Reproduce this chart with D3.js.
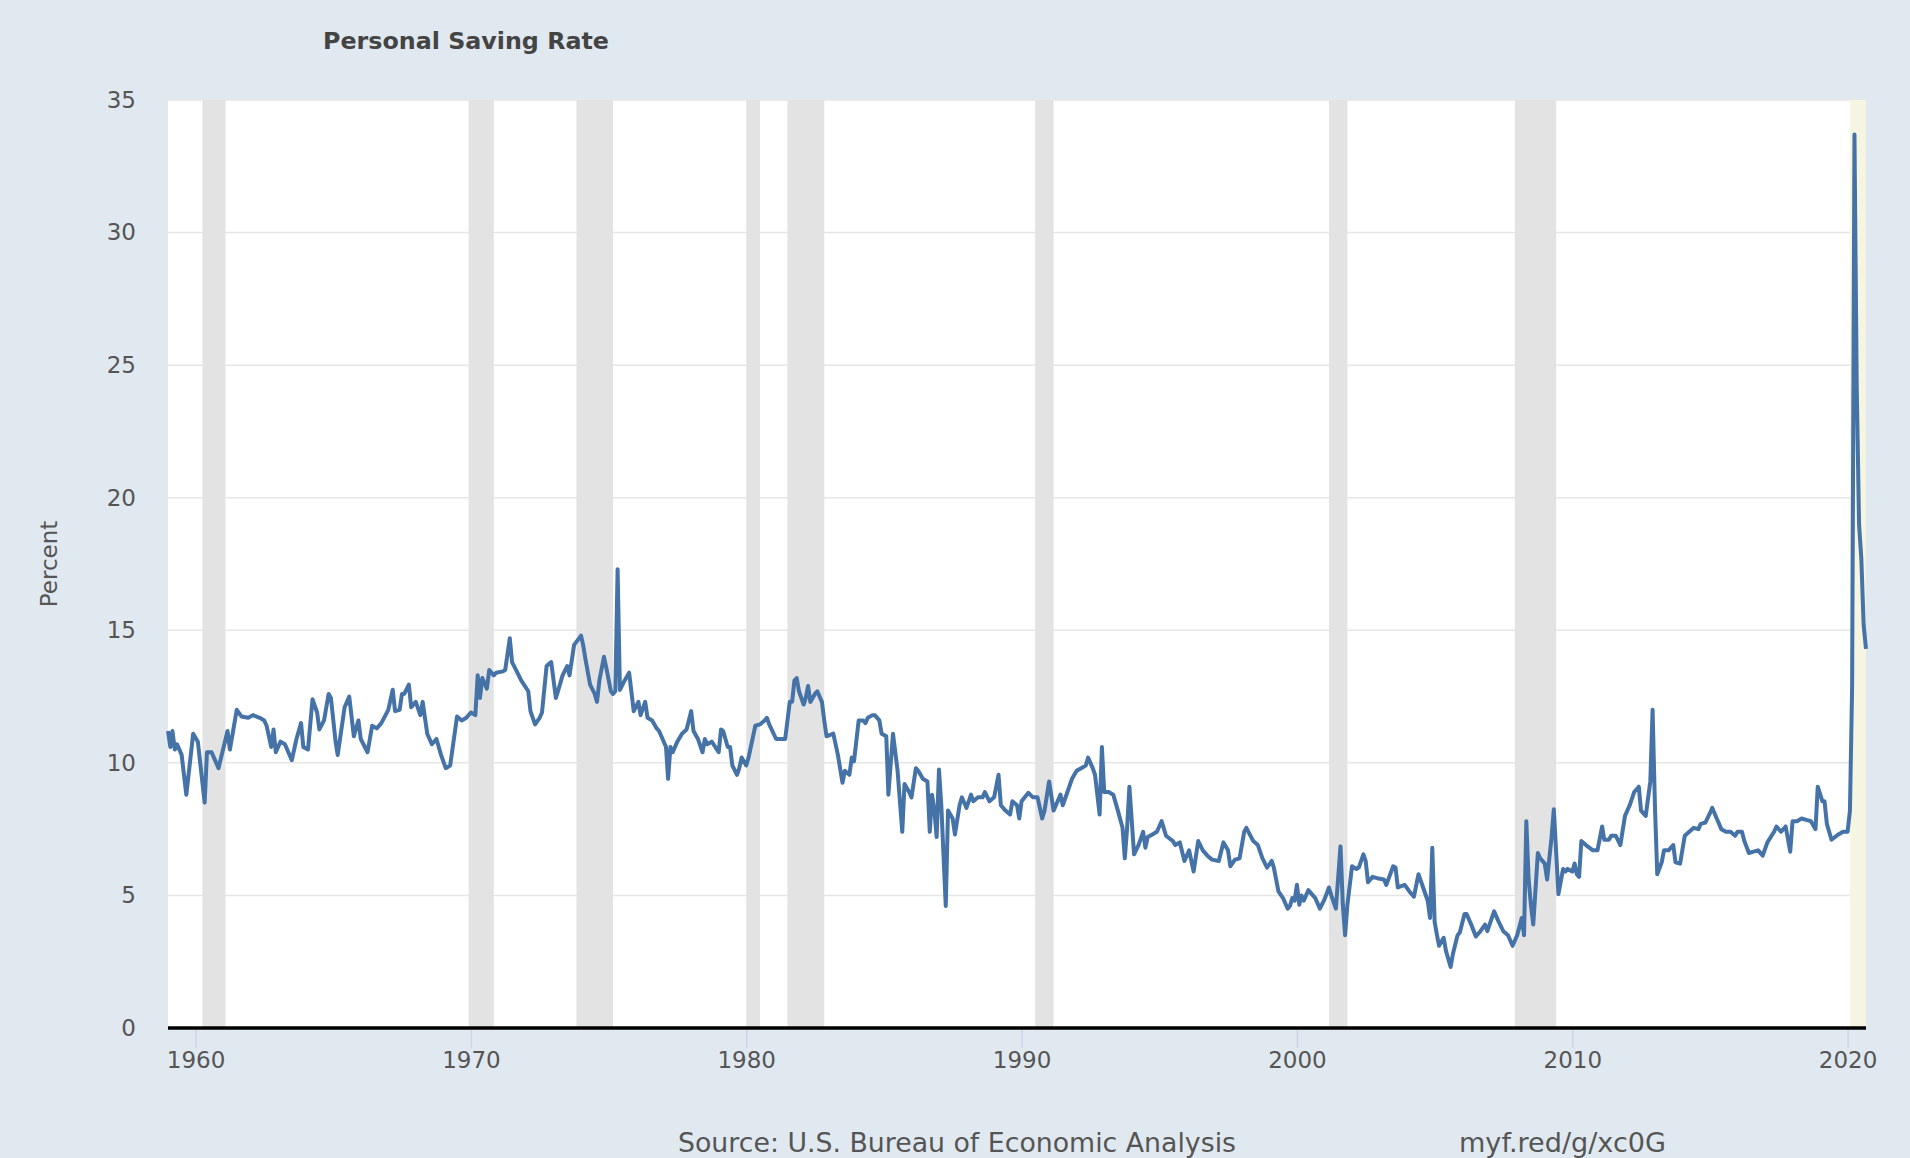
<!DOCTYPE html>
<html>
<head>
<meta charset="utf-8">
<script src="https://cdn.jsdelivr.net/npm/d3@7"></script>
<style>
  body { margin: 0; background: #e1e9f0; }
  svg { display: block; }
</style>
</head>
<body>
<div id="chart"></div>
<script>
const obsMonths = [
  "1959-01","1959-02","1959-03","1959-04","1959-05","1959-07","1959-09","1959-12",
  "1960-02","1960-05","1960-06","1960-08","1960-11",
  "1961-03","1961-04","1961-07","1961-09","1961-12",
  "1962-02","1962-05","1962-07","1962-08","1962-10","1962-11","1962-12",
  "1963-02","1963-04","1963-07","1963-09","1963-11","1963-12",
  "1964-02","1964-04","1964-06","1964-07","1964-09","1964-11","1964-12",
  "1965-02","1965-03","1965-06","1965-08","1965-10","1965-12",
  "1966-01","1966-04","1966-06","1966-08","1966-10",
  "1967-01","1967-03","1967-04","1967-06","1967-07","1967-08","1967-10","1967-11",
  "1968-01","1968-03","1968-04","1968-06","1968-08","1968-10","1968-12",
  "1969-02","1969-04","1969-07","1969-09","1969-11",
  "1970-01","1970-03","1970-04","1970-05","1970-06","1970-08","1970-09","1970-11","1970-12",
  "1971-03","1971-04","1971-06","1971-07","1971-09","1971-11",
  "1972-02","1972-03","1972-05","1972-07","1972-08","1972-10","1972-12",
  "1973-02","1973-03","1973-05","1973-07","1973-08","1973-10",
  "1974-01","1974-02","1974-03","1974-05","1974-07","1974-08","1974-09","1974-11","1974-12",
  "1975-02","1975-03","1975-04","1975-05","1975-06","1975-08","1975-10","1975-12",
  "1976-02","1976-03","1976-05","1976-06","1976-08","1976-10","1976-11",
  "1977-02","1977-03","1977-04","1977-05","1977-07","1977-09","1977-11",
  "1978-01","1978-02","1978-04","1978-06","1978-07","1978-08","1978-10",
  "1979-01","1979-02","1979-03","1979-05","1979-06","1979-07","1979-09","1979-10","1979-11",
  "1980-01","1980-02","1980-05","1980-07","1980-09","1980-10","1980-11",
  "1981-02","1981-04","1981-06","1981-08","1981-09","1981-10","1981-11","1981-12",
  "1982-02","1982-03","1982-04","1982-05","1982-07","1982-08","1982-10","1982-11","1982-12",
  "1983-03","1983-05","1983-07","1983-08","1983-10","1983-11","1983-12",
  "1984-02","1984-04","1984-05","1984-06","1984-08","1984-09","1984-11","1984-12",
  "1985-02","1985-03","1985-05","1985-07","1985-08","1985-09","1985-10","1985-12",
  "1986-01","1986-03","1986-04","1986-06","1986-08","1986-09","1986-10","1986-11","1986-12",
  "1987-01","1987-02","1987-04","1987-05","1987-07","1987-08","1987-10","1987-11",
  "1988-01","1988-03","1988-04","1988-06","1988-08","1988-09","1988-11",
  "1989-01","1989-03","1989-04","1989-06","1989-08","1989-09","1989-11","1989-12",
  "1990-01","1990-04","1990-06","1990-08","1990-10","1990-11",
  "1991-01","1991-03","1991-05","1991-06","1991-07","1991-09","1991-11",
  "1992-01","1992-03","1992-05","1992-06","1992-08","1992-09","1992-11","1992-12",
  "1993-01","1993-03","1993-05","1993-07","1993-09","1993-10","1993-11","1993-12",
  "1994-02","1994-04","1994-06","1994-07","1994-08","1994-10","1994-12",
  "1995-02","1995-04","1995-07","1995-08","1995-10","1995-12",
  "1996-02","1996-04","1996-06","1996-08","1996-10","1996-12",
  "1997-03","1997-05","1997-07","1997-08","1997-10","1997-12",
  "1998-02","1998-03","1998-06","1998-08","1998-10","1998-12",
  "1999-02","1999-03","1999-05","1999-07","1999-09","1999-10","1999-11","1999-12",
  "2000-01","2000-02","2000-03","2000-04","2000-06","2000-09","2000-11",
  "2001-01","2001-03","2001-04","2001-06","2001-08","2001-09","2001-10","2001-11",
  "2002-01","2002-03","2002-04","2002-06","2002-07","2002-08","2002-10","2002-12",
  "2003-03","2003-04","2003-07","2003-08","2003-09","2003-12",
  "2004-02","2004-04","2004-06","2004-08","2004-10","2004-11","2004-12",
  "2005-01","2005-02","2005-03","2005-05","2005-06","2005-08","2005-09","2005-11","2005-12",
  "2006-02","2006-03","2006-05","2006-07","2006-09","2006-11","2006-12",
  "2007-03","2007-05","2007-07","2007-09","2007-11",
  "2008-01","2008-03","2008-04","2008-05","2008-06","2008-07","2008-08","2008-10","2008-11",
  "2009-01","2009-02","2009-04","2009-05","2009-07","2009-09","2009-10","2009-11",
  "2010-01","2010-02","2010-03","2010-04","2010-05","2010-07","2010-10","2010-12",
  "2011-02","2011-03","2011-05","2011-06","2011-08","2011-10","2011-12",
  "2012-02","2012-04","2012-06","2012-07","2012-09","2012-11","2012-12",
  "2013-01","2013-02","2013-04","2013-05","2013-07","2013-09","2013-10","2013-12",
  "2014-02","2014-04","2014-06","2014-08","2014-09","2014-11",
  "2015-01","2015-02","2015-04","2015-06","2015-08","2015-10","2015-12",
  "2016-01","2016-03","2016-04","2016-06","2016-08","2016-10","2016-12",
  "2017-02","2017-05","2017-06","2017-08","2017-10","2017-12",
  "2018-01","2018-03","2018-05","2018-07","2018-09","2018-11","2018-12",
  "2019-02","2019-03","2019-04","2019-06","2019-09","2019-11",
  "2020-01","2020-02","2020-03","2020-04","2020-05","2020-06","2020-07","2020-08","2020-09"
];

const obsRates = [
  11.2,10.6,11.2,10.5,10.7,10.3,8.8,11.1,
  10.8,8.5,10.4,10.4,9.8,
  11.2,10.5,12.0,11.75,11.7,
  11.8,11.7,11.6,11.4,10.6,11.26,10.4,
  10.8,10.7,10.1,10.9,11.5,10.6,
  10.5,12.4,11.9,11.26,11.6,12.6,12.45,
  10.8,10.3,12.1,12.5,11.0,11.6,
  10.9,10.4,11.4,11.3,11.5,
  12.0,12.76,11.95,12.0,12.6,12.6,12.95,12.1,
  12.3,11.8,12.3,11.1,10.7,10.9,10.3,
  9.8,9.9,11.75,11.6,11.7,
  11.9,11.8,13.3,12.45,13.2,12.8,13.5,13.3,13.4,
  13.45,13.5,14.7,13.8,13.45,13.1,
  12.7,11.95,11.45,11.7,11.9,13.65,13.8,
  12.45,12.7,13.3,13.65,13.3,14.45,
  14.8,14.4,13.9,12.95,12.6,12.3,13.1,14.0,13.6,
  12.7,12.6,12.7,17.3,12.75,13.1,13.4,11.95,
  12.3,11.8,12.3,11.7,11.6,11.3,11.2,
  10.6,9.4,10.6,10.4,10.8,11.1,11.26,
  11.95,11.2,10.9,10.4,10.9,10.7,10.8,
  10.4,11.26,11.2,10.6,10.6,9.9,9.55,9.8,10.2,
  9.9,10.2,11.4,11.45,11.6,11.7,11.45,
  10.9,10.9,10.9,12.3,12.3,13.1,13.2,12.7,
  12.2,12.45,12.9,12.3,12.6,12.7,12.3,11.6,11.0,
  11.1,10.3,9.25,9.7,9.55,10.2,10.06,
  11.6,11.6,11.5,11.7,11.8,11.8,11.6,11.1,
  11.0,8.8,11.1,9.7,8.55,7.4,9.2,8.9,
  8.7,9.8,9.7,9.4,9.3,7.4,8.8,8.2,7.2,
  9.75,8.4,4.6,8.2,7.9,7.3,8.4,8.7,
  8.3,8.8,8.55,8.7,8.7,8.9,8.55,
  8.7,9.55,8.4,8.2,8.05,8.55,8.4,7.9,
  8.55,8.87,8.7,8.7,7.9,8.2,
  9.3,8.2,8.6,8.8,8.4,8.9,9.4,
  9.7,9.8,9.9,10.2,9.8,9.55,8.05,10.6,
  8.9,8.9,8.8,8.2,7.55,6.4,7.55,9.1,
  6.55,6.9,7.4,6.8,7.2,7.3,7.4,
  7.8,7.25,7.05,6.9,7.0,6.3,
  6.7,5.9,7.05,6.7,6.5,6.35,
  6.3,7.0,6.7,6.1,6.35,6.4,
  7.4,7.55,7.05,6.9,6.4,6.05,
  6.3,6.05,5.15,4.9,4.5,4.6,4.9,4.8,
  5.4,4.65,5.0,4.8,5.2,4.9,4.5,
  4.85,5.3,5.0,4.5,6.85,4.65,3.5,4.65,
  6.1,6.0,6.05,6.55,6.3,5.5,5.7,5.65,
  5.6,5.4,6.1,6.05,5.3,5.4,
  5.15,4.95,5.8,5.3,4.8,4.15,6.8,
  4.0,3.5,3.1,3.4,2.9,2.3,2.8,3.5,3.6,
  4.3,4.3,3.9,3.45,3.65,3.9,3.65,
  4.4,4.0,3.65,3.5,3.1,
  3.5,4.15,3.5,7.8,5.6,4.65,3.9,6.6,6.4,
  6.2,5.6,7.2,8.25,5.05,6.0,5.9,6.0,
  5.9,6.2,5.8,5.7,7.05,6.9,6.7,6.7,
  7.6,7.1,7.1,7.25,7.25,6.9,8.0,
  8.4,8.9,9.1,8.2,8.0,9.3,12.0,
  8.4,5.8,6.25,6.7,6.7,6.9,6.25,6.2,
  7.25,7.4,7.55,7.5,7.7,7.75,
  8.1,8.3,7.9,7.5,7.4,7.4,7.25,
  7.4,7.4,7.05,6.6,6.65,6.7,6.5,
  7.0,7.4,7.6,7.4,7.6,6.65,
  7.8,7.8,7.9,7.85,7.8,7.5,9.1,
  8.55,8.55,7.7,7.1,7.3,7.4,
  7.4,8.2,12.9,33.7,24.2,19.0,17.7,15.2,14.3
];

// recession periods (peak month, trough month)
const recessionStarts = ["1960-04","1969-12","1973-11","1980-01","1981-07","1990-07","2001-03","2007-12"];
const recessionEnds   = ["1961-02","1970-11","1975-03","1980-07","1982-11","1991-03","2001-11","2009-06"];
const provisionalStart = "2020-02";

const yTicks = [0, 5, 10, 15, 20, 25, 30, 35];
const xTickYears = [1960, 1970, 1980, 1990, 2000, 2010, 2020];

const chartTitle = "Personal Saving Rate";
const yAxisTitle = "Percent";
const sourceText = "Source: U.S. Bureau of Economic Analysis";
const linkText = "myf.red/g/xc0G";

// 2: LAYOUT
const totalW = 1910, totalH = 1158;
const margin = { top: 100, right: 44, bottom: 130, left: 168 };
const width = totalW - margin.left - margin.right;
const height = totalH - margin.top - margin.bottom;

const parseMonth = d3.utcParse("%Y-%m");
const data = obsMonths.map((m, i) => ({ date: parseMonth(m), rate: obsRates[i] }));

const svg = d3.select("#chart")
  .append("svg")
  .attr("width", totalW)
  .attr("height", totalH)
  .style("font-family", "'DejaVu Sans', sans-serif");

svg.append("rect")
  .attr("width", totalW)
  .attr("height", totalH)
  .attr("fill", "#e1e9f0");

const g = svg.append("g")
  .attr("transform", `translate(${margin.left},${margin.top})`);

const xScale = d3.scaleUtc()
  .domain([parseMonth(obsMonths[0]), parseMonth(obsMonths[obsMonths.length - 1])])
  .range([0, width]);

const yScale = d3.scaleLinear()
  .domain([0, 35])
  .range([height, 0]);

// plot background
g.append("rect")
  .attr("width", width)
  .attr("height", height)
  .attr("fill", "#ffffff");

// grid lines
g.selectAll(".grid")
  .data(yTicks.filter(d => d > 0))
  .enter()
  .append("line")
  .attr("class", "grid")
  .attr("x1", 0)
  .attr("x2", width)
  .attr("y1", d => yScale(d))
  .attr("y2", d => yScale(d))
  .attr("stroke", "#e6e6e6")
  .attr("stroke-width", 1.5);

// recession bands
g.selectAll(".recession")
  .data(recessionStarts.map((s, i) => [parseMonth(s), parseMonth(recessionEnds[i])]))
  .enter()
  .append("rect")
  .attr("class", "recession")
  .attr("x", d => xScale(d[0]))
  .attr("width", d => xScale(d[1]) - xScale(d[0]))
  .attr("y", 0)
  .attr("height", height)
  .attr("fill", "#e3e3e3");

g.append("rect")
  .attr("x", xScale(parseMonth(provisionalStart)))
  .attr("width", width - xScale(parseMonth(provisionalStart)))
  .attr("y", 0)
  .attr("height", height)
  .attr("fill", "#f6f5e1");

// LINE
const line = d3.line()
  .x(d => xScale(d.date))
  .y(d => yScale(d.rate));

g.append("path")
  .datum(data)
  .attr("fill", "none")
  .attr("stroke", "#4572a7")
  .attr("stroke-width", 4)
  .attr("stroke-linejoin", "round")
  .attr("d", line);

// AXES
const xAxis = g.append("g")
  .attr("transform", `translate(0,${height})`)
  .call(d3.axisBottom(xScale)
    .tickValues(xTickYears.map(y => new Date(Date.UTC(y, 0, 1))))
    .tickFormat(d3.utcFormat("%Y"))
    .tickSizeInner(20)
    .tickSizeOuter(0)
    .tickPadding(10));
xAxis.select(".domain").remove();
xAxis.selectAll(".tick line").attr("stroke", "#ccd6eb").attr("stroke-width", 1.5);
xAxis.selectAll(".tick text")
  .attr("font-size", "23px")
  .attr("fill", "#555555")
  .attr("font-family", "'DejaVu Sans', sans-serif")
  .attr("dy", null)
  .attr("y", 40);

// thick zero line
g.append("line")
  .attr("x1", 0)
  .attr("x2", width)
  .attr("y1", yScale(0))
  .attr("y2", yScale(0))
  .attr("stroke", "#000000")
  .attr("stroke-width", 3.5);

const yAxis = g.append("g")
  .call(d3.axisLeft(yScale)
    .tickValues(yTicks)
    .tickSize(0)
    .tickPadding(32));
yAxis.select(".domain").remove();
yAxis.selectAll(".tick text")
  .attr("font-size", "23px")
  .attr("fill", "#555555")
  .attr("font-family", "'DejaVu Sans', sans-serif");

// LABELS
svg.append("text")
  .attr("x", 323)
  .attr("y", 49)
  .attr("font-size", "23px")
  .attr("font-weight", "bold")
  .attr("fill", "#444444")
  .attr("textLength", 286)
  .attr("lengthAdjust", "spacingAndGlyphs")
  .text(chartTitle);

svg.append("text")
  .attr("transform", `translate(57,${margin.top + height / 2}) rotate(-90)`)
  .attr("text-anchor", "middle")
  .attr("font-size", "23px")
  .attr("fill", "#555555")
  .text(yAxisTitle);

svg.append("text")
  .attr("x", 678)
  .attr("y", 1152)
  .attr("font-size", "26.5px")
  .attr("fill", "#555555")
  .attr("textLength", 558)
  .attr("lengthAdjust", "spacingAndGlyphs")
  .text(sourceText);

svg.append("text")
  .attr("x", 1459)
  .attr("y", 1152)
  .attr("font-size", "26.5px")
  .attr("fill", "#555555")
  .attr("textLength", 207)
  .attr("lengthAdjust", "spacingAndGlyphs")
  .text(linkText);
</script>
</body>
</html>
